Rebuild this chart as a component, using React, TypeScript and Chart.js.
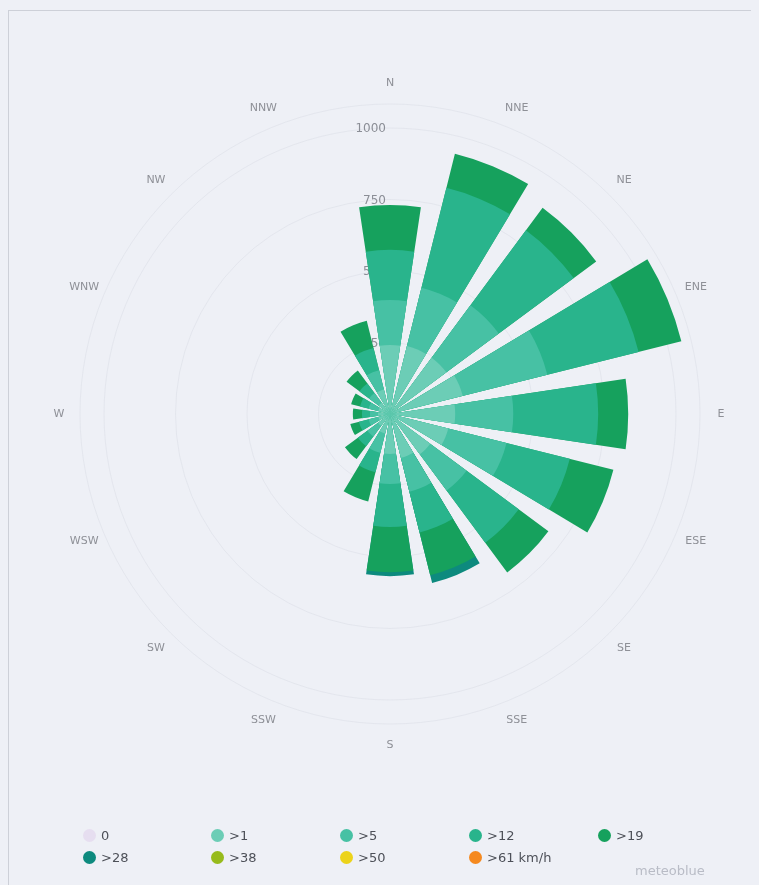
import React, { useEffect, useRef } from 'react';
import { Chart, registerables } from 'chart.js';

Chart.register(...registerables);

// ---- data -------------------------------------------------------------
const DIRECTIONS = ['N', 'NNE', 'NE', 'ENE', 'E', 'ESE', 'SE', 'SSE', 'S', 'SSW', 'SW', 'WSW', 'W', 'WNW', 'NW', 'NNW'];

const CLASS_LABELS = ['0', '>1', '>5', '>12', '>19', '>28', '>38', '>50', '>61 km/h'];
const CLASS_COLORS = ['#e6def0', '#6ccdb6', '#47c1a4', '#29b48c', '#16a15d', '#0d8a7e', '#97bb1c', '#ecd31a', '#f5891f'];

// hours per direction and speed class
const CALM = [0, 0, 0, 0, 0, 0, 0, 0, 0, 0, 0, 0, 0, 0, 0, 0];
const GT1 = [241, 245, 245, 262, 228, 210, 175, 158, 140, 70, 52, 42, 42, 42, 49, 88];
const GT5 = [158, 210, 228, 305, 203, 210, 158, 122, 105, 70, 46, 35, 28, 35, 42, 70];
const GT12 = [175, 360, 326, 329, 297, 228, 227, 147, 150, 70, 42, 35, 28, 31, 42, 80];
const GT19 = [157, 123, 98, 154, 105, 157, 129, 154, 158, 105, 56, 31, 32, 32, 56, 98];
const GT28 = [0, 0, 0, 0, 0, 0, 0, 28, 14, 0, 0, 0, 0, 0, 0, 0];
const GT38 = [0, 0, 0, 0, 0, 0, 0, 0, 0, 0, 0, 0, 0, 0, 0, 0];
const GT50 = [0, 0, 0, 0, 0, 0, 0, 0, 0, 0, 0, 0, 0, 0, 0, 0];
const GT61 = [0, 0, 0, 0, 0, 0, 0, 0, 0, 0, 0, 0, 0, 0, 0, 0];

const TICK_VALUES = [250, 500, 750, 1000];
const SCALE_MAX = 1084;

const SERIES = [CALM, GT1, GT5, GT12, GT19, GT28, GT38, GT50, GT61];

// ---- styling ------------------------------------------------------------
const BG = '#eef0f6';
const GRID_COLOR = 'rgba(200,204,216,0.28)';
const BAR_SPAN_DEG = 17;
const LABEL_RADIUS = 331;

const rosePlugin = {
  id: 'roseDecor',
  afterDatasetsUpdate(chart: any) {
    const half = (BAR_SPAN_DEG * Math.PI) / 360;
    chart.data.datasets.forEach((_: any, di: number) => {
      const meta = chart.getDatasetMeta(di);
      meta.data.forEach((arc: any) => {
        const c = (arc.startAngle + arc.endAngle) / 2;
        arc.startAngle = c - half;
        arc.endAngle = c + half;
      });
    });
  },
  beforeDatasetsDraw(chart: any) {
    const scale = chart.scales.r;
    const ctx = chart.ctx as CanvasRenderingContext2D;
    const cx = scale.xCenter;
    const cy = scale.yCenter;
    ctx.save();
    ctx.strokeStyle = GRID_COLOR;
    ctx.lineWidth = 1;
    [...TICK_VALUES, SCALE_MAX].forEach((v) => {
      const r = scale.getDistanceFromCenterForValue(v);
      ctx.beginPath();
      ctx.arc(cx, cy, r, 0, Math.PI * 2);
      ctx.stroke();
    });
    ctx.fillStyle = '#8b8e96';
    ctx.font = '12px "DejaVu Sans", sans-serif';
    ctx.textAlign = 'right';
    ctx.textBaseline = 'middle';
    TICK_VALUES.forEach((v) => {
      const r = scale.getDistanceFromCenterForValue(v);
      ctx.fillText(String(v), cx - 4, cy - r + 1);
    });
    ctx.fillStyle = '#8e9097';
    ctx.font = '11px "DejaVu Sans", sans-serif';
    ctx.textAlign = 'center';
    DIRECTIONS.forEach((d, i) => {
      const a = (i * 2 * Math.PI) / DIRECTIONS.length;
      ctx.fillText(d, cx + LABEL_RADIUS * Math.sin(a), cy - LABEL_RADIUS * Math.cos(a));
    });
    ctx.restore();
  },
};

const W = 751;
const H = 877;

const LEGEND_COLS = [82, 210, 339, 468, 597];
const LEGEND_ROWS = [827, 849];

export default function App() {
  const ref = useRef<HTMLCanvasElement | null>(null);

  useEffect(() => {
    document.body.style.background = BG;
    const cum: number[][] = [];
    SERIES.forEach((s, k) => {
      cum.push(s.map((v, i) => v + (k > 0 ? cum[k - 1][i] : 0)));
    });
    const datasets = SERIES.map((s, k) => ({
      label: CLASS_LABELS[k],
      data: cum[k],
      backgroundColor: s.map((v) => (v > 0 ? CLASS_COLORS[k] : 'rgba(0,0,0,0)')),
      borderWidth: 0,
    }));
    const chart = new Chart(ref.current as HTMLCanvasElement, {
      type: 'polarArea',
      data: { labels: DIRECTIONS, datasets },
      options: {
        responsive: false,
        animation: false,
        events: [],
        layout: { padding: { left: 72, top: 96, right: 59, bottom: 161 } },
        plugins: { legend: { display: false }, tooltip: { enabled: false } },
        scales: {
          r: {
            type: 'radialLinear',
            min: 0,
            max: SCALE_MAX,
            startAngle: -11.25,
            ticks: { display: false, stepSize: 250 },
            grid: { display: false },
            angleLines: { display: false },
            pointLabels: { display: false },
          },
        },
      } as any,
      plugins: [rosePlugin],
    });
    return () => chart.destroy();
  }, []);

  return (
    <div style={{ position: 'relative', width: W, height: H, overflow: 'hidden', background: BG }}>
      <div
        style={{
          position: 'absolute',
          left: 0,
          top: 2,
          width: 800,
          height: 1000,
          border: '1px solid #cdd0d8',
          boxSizing: 'border-box',
        }}
      />
      <canvas ref={ref} width={W} height={H} style={{ position: 'absolute', left: 0, top: 0 }} />
      {CLASS_LABELS.map((lab, k) => {
        const col = k % 5;
        const row = Math.floor(k / 5);
        return (
          <div
            key={lab}
            style={{
              position: 'absolute',
              left: LEGEND_COLS[col] - 7,
              top: LEGEND_ROWS[row] - 9,
              height: 18,
              display: 'flex',
              alignItems: 'center',
              fontFamily: '"DejaVu Sans", sans-serif',
              fontSize: 13,
              color: '#4d5058',
              whiteSpace: 'nowrap',
            }}
          >
            <span
              style={{
                display: 'inline-block',
                width: 13,
                height: 13,
                borderRadius: '50%',
                background: CLASS_COLORS[k],
                marginRight: 5,
              }}
            />
            <span>{lab}</span>
          </div>
        );
      })}
      <div
        style={{
          position: 'absolute',
          left: 627,
          top: 855,
          fontFamily: '"DejaVu Sans", sans-serif',
          fontSize: 13,
          color: '#b9bcc6',
        }}
      >
        meteoblue
      </div>
    </div>
  );
}
